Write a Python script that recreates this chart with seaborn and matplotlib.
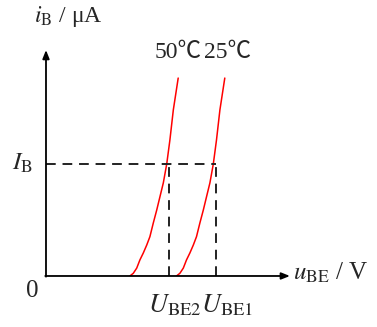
"""Input characteristic of a BJT at two temperatures (sketch)."""

import matplotlib.pyplot as plt
import pandas as pd
import seaborn as sns

# values (axes scaled so that the arrow tips are at 1)
u_50 = [0.344, 0.358, 0.372, 0.385, 0.399, 0.413, 0.426, 0.440,
        0.454, 0.467, 0.481, 0.495, 0.508, 0.522, 0.542]
u_25 = [0.535, 0.549, 0.563, 0.576, 0.590, 0.604, 0.617, 0.631,
        0.645, 0.658, 0.672, 0.686, 0.699, 0.713, 0.733]
i_b = [0.0, 0.012, 0.035, 0.071, 0.102, 0.137, 0.174, 0.235,
       0.292, 0.350, 0.412, 0.496, 0.602, 0.735, 0.876]
temps = ["50℃", "25℃"]
i_level = 0.496
u_be2 = 0.505
u_be1 = 0.695

df = pd.DataFrame({
    "u": u_50 + u_25,
    "i": i_b + i_b,
    "T": [temps[0]] * len(u_50) + [temps[1]] * len(u_25),
})

sns.set_style("white")
plt.rcParams["font.family"] = ["Liberation Serif", "Noto Sans CJK SC", "DejaVu Sans"]
plt.rcParams["mathtext.fontset"] = "stix"

fig = plt.figure(figsize=(3.77, 3.27), dpi=100)
ax = fig.add_axes([0.122, 0.156, 0.647, 0.691])

sns.lineplot(data=df, x="u", y="i", hue="T", palette=["#ff0000", "#ff0000"],
             estimator=None, sort=False, linewidth=1.1, legend=False, ax=ax)

dash = dict(color="#222222", linewidth=1.4, linestyle=(0, (5, 3.5)))
ax.plot([0, u_be1], [i_level, i_level], **dash)
ax.plot([u_be2, u_be2], [0, i_level], **dash)
ax.plot([u_be1, u_be1], [0, i_level], **dash)

ax.set_xlim(0, 1)
ax.set_ylim(0, 1)
for s in ax.spines.values():
    s.set_visible(False)
ax.set_xticks([])
ax.set_yticks([])
ax.set_xlabel("")
ax.set_ylabel("")

ax.annotate("", xy=(1.0, 0), xytext=(-0.003, 0), annotation_clip=False,
            arrowprops=dict(arrowstyle="-|>,head_length=0.5,head_width=0.2",
                            color="black", lw=1.3, shrinkA=0, shrinkB=0))
ax.annotate("", xy=(0, 1.0), xytext=(0, -0.003), annotation_clip=False,
            arrowprops=dict(arrowstyle="-|>,head_length=0.5,head_width=0.2",
                            color="black", lw=1.3, shrinkA=0, shrinkB=0))

ax.text(-0.05, 1.15, r"$i_{\rm B}$ / μA", fontsize=17, ha="left", va="center")
ax.text(0.54, 0.99, temps[0], fontsize=17, ha="center", va="center")
ax.text(0.745, 0.99, temps[1], fontsize=17, ha="center", va="center")
ax.text(-0.098, 0.5, r"$I_{\rm B}$", fontsize=18, ha="center", va="center")
ax.text(-0.057, -0.066, "0", fontsize=18, ha="center", va="center")
ax.text(0.633, -0.128, r"$U_{\rm BE2}U_{\rm BE1}$", fontsize=19,
        ha="center", va="center")
ax.text(1.012, 0.015, r"$u_{\rm BE}$ / V", fontsize=18, ha="left", va="center")

fig.savefig("out.png", dpi=100)
plt.close(fig)
